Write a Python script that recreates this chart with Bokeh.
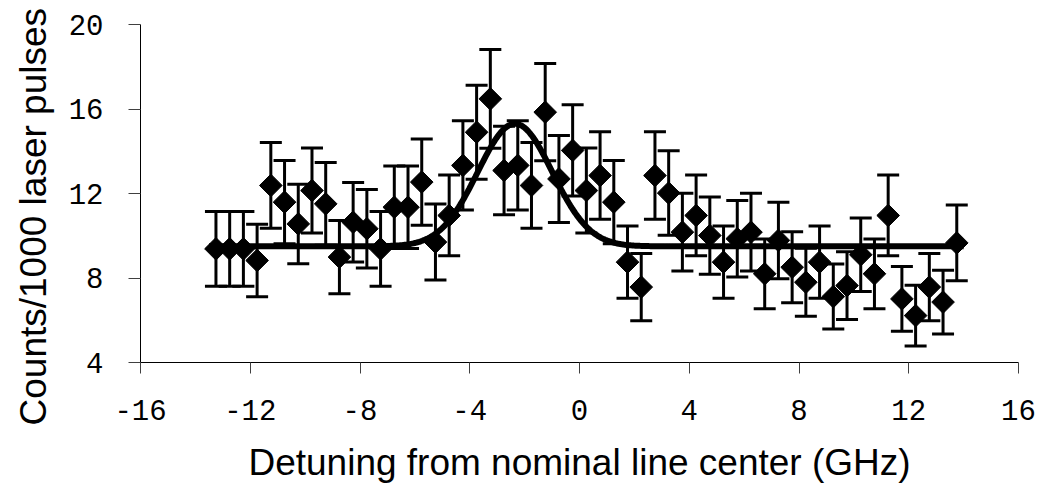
import numpy as np
from bokeh.plotting import figure
from bokeh.models import ColumnDataSource, Whisker, TeeHead, FixedTicker, Title
from bokeh.embed import file_html
from bokeh.resources import INLINE

# ---- data ----
detuning = [-13.25, -12.75, -12.25, -11.75, -11.25, -10.75, -10.25, -9.75, -9.25, -8.75,
            -8.25, -7.75, -7.25, -6.75, -6.25, -5.75, -5.25, -4.75, -4.25, -3.75,
            -3.25, -2.75, -2.25, -1.75, -1.25, -0.75, -0.25, 0.25, 0.75, 1.25,
            1.75, 2.25, 2.75, 3.25, 3.75, 4.25, 4.75, 5.25, 5.75, 6.25,
            6.75, 7.25, 7.75, 8.25, 8.75, 9.25, 9.75, 10.25, 10.75, 11.25,
            11.75, 12.25, 12.75, 13.25, 13.75]
counts = [9.38, 9.38, 9.38, 8.83, 12.38, 11.59, 10.56, 12.14, 11.51, 8.99,
          10.64, 10.33, 9.38, 11.35, 11.35, 12.54, 9.70, 10.96, 13.33, 14.90,
          16.48, 13.09, 13.33, 12.38, 15.85, 12.69, 14.04, 12.14, 12.85, 11.59,
          8.75, 7.57, 12.85, 12.02, 10.17, 10.96, 10.01, 8.75, 9.86, 10.17,
          8.20, 9.78, 8.51, 7.80, 8.75, 7.12, 7.64, 9.10, 8.20, 10.96,
          7.01, 6.22, 7.57, 6.86, 9.66]
errors = [1.77, 1.77, 1.77, 1.72, 2.03, 1.97, 1.88, 2.01, 1.96, 1.73,
          1.88, 1.86, 1.77, 1.95, 1.95, 2.04, 1.80, 1.91, 2.11, 2.23,
          2.34, 2.09, 2.11, 2.03, 2.30, 2.06, 2.16, 2.01, 2.07, 1.97,
          1.71, 1.59, 2.07, 2.00, 1.84, 1.91, 1.83, 1.71, 1.81, 1.84,
          1.65, 1.81, 1.68, 1.61, 1.71, 1.54, 1.60, 1.74, 1.65, 1.91,
          1.53, 1.44, 1.59, 1.51, 1.79]

# Gaussian fit parameters
fit_baseline = 9.5
fit_peak = 15.3
fit_center = -2.35
fit_fwhm = 3.2
fit_start = -13.5
fit_end = 14.0

x_ticks = [-16, -12, -8, -4, 0, 4, 8, 12, 16]
y_ticks = [4, 8, 12, 16, 20]
x_title = "Detuning from nominal line center (GHz)"
y_title = "Counts/1000 laser pulses"

# ---- build ----
upper = [c + e for c, e in zip(counts, errors)]
lower = [c - e for c, e in zip(counts, errors)]
src = ColumnDataSource(dict(x=detuning, y=counts, upper=upper, lower=lower))

fit_x = np.linspace(fit_start, fit_end, 500)
fit_y = fit_baseline + (fit_peak - fit_baseline) * np.exp(
    -4 * np.log(2) * (fit_x - fit_center) ** 2 / fit_fwhm ** 2)

p = figure(width=1037, height=494, x_range=(-16, 16), y_range=(4, 20),
           output_backend="svg", toolbar_location=None,
           min_border_left=140, min_border_right=19,
           min_border_top=24, min_border_bottom=132)
p.outline_line_color = None
p.xgrid.visible = False
p.ygrid.visible = False
p.background_fill_color = "white"
p.border_fill_color = "white"

whisk = Whisker(base="x", upper="upper", lower="lower", source=src,
                line_color="black", line_width=3,
                upper_head=TeeHead(size=22, line_width=3, line_color="black"),
                lower_head=TeeHead(size=22, line_width=3, line_color="black"))
p.add_layout(whisk)

p.line(fit_x, fit_y, line_color="black", line_width=6)
p.scatter("x", "y", source=src, marker="square", size=16, angle=np.pi / 4,
          fill_color="black", line_color="black")

mono = "Liberation Mono"
sans = "Liberation Sans"

xa = p.xaxis[0]
xa.ticker = FixedTicker(ticks=x_ticks)
xa.major_label_overrides = {t: str(t) for t in x_ticks}
xa.minor_tick_line_color = None
xa.major_tick_in = 0
xa.major_tick_out = 11
xa.major_tick_line_color = "#404040"
xa.axis_line_color = "black"
xa.major_label_text_font = mono
xa.major_label_text_font_size = "29px"
xa.major_label_text_color = "black"
xa.major_label_standoff = 26
xa.axis_label = x_title
xa.axis_label_text_font = sans
xa.axis_label_text_font_size = "37px"
xa.axis_label_text_font_style = "normal"
xa.axis_label_text_color = "black"
xa.axis_label_standoff = 19

ya = p.yaxis[0]
ya.ticker = FixedTicker(ticks=y_ticks)
ya.major_label_overrides = {t: str(t) for t in y_ticks}
ya.minor_tick_line_color = None
ya.major_tick_in = 0
ya.major_tick_out = 12
ya.major_tick_line_color = "#404040"
ya.axis_line_color = "black"
ya.major_label_text_font = mono
ya.major_label_text_font_size = "29px"
ya.major_label_text_color = "black"
ya.major_label_standoff = 25

# y title: the reference title starts below the frame bottom, so anchor it at its start
ytitle = Title(text=y_title, align="left", offset=-63, standoff=19,
               vertical_align="top",
               text_font=sans, text_font_size="37px", text_font_style="normal",
               text_color="black")
p.add_layout(ytitle, "left")

open("out.html", "w").write(file_html(p, INLINE))
